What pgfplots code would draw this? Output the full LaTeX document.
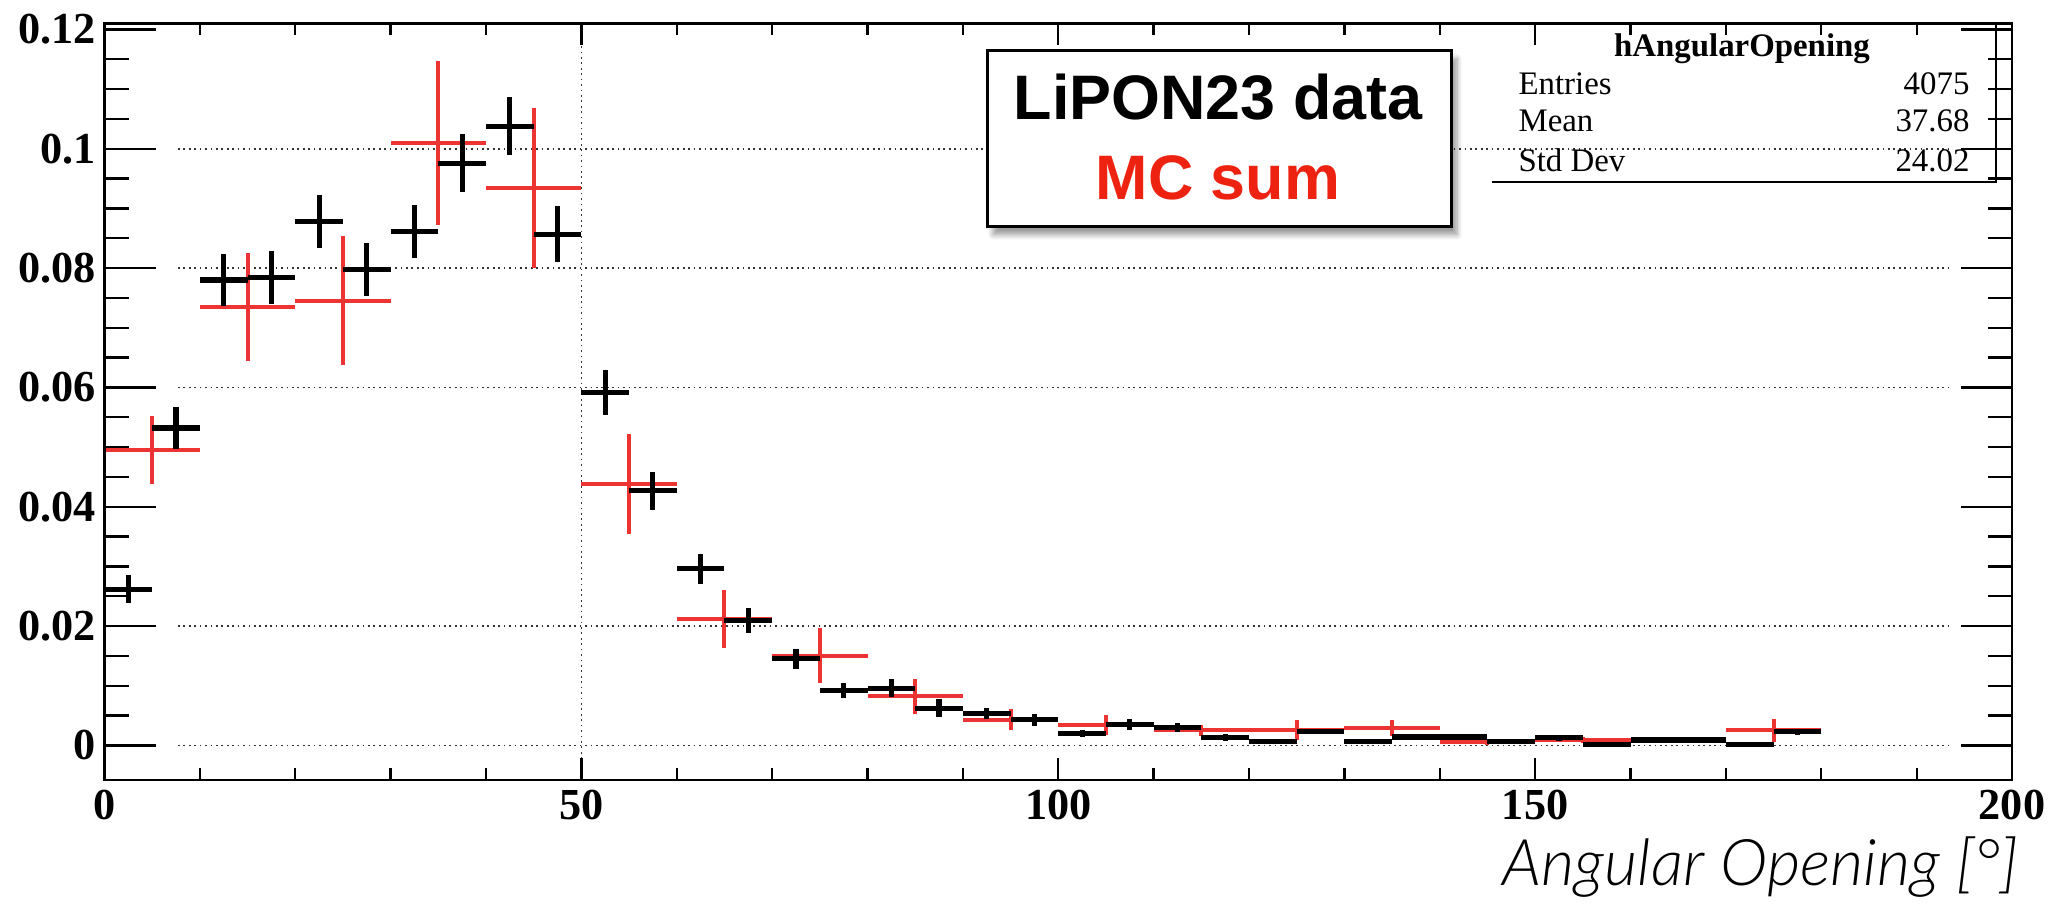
\documentclass[border=0pt]{standalone}
\usepackage{fontspec}
\setmainfont{Liberation Serif}
\newfontfamily\legendfont{Liberation Sans}
\newfontfamily\labelfont{Lato Light Italic}
\usepackage{pgfplots}
\pgfplotsset{compat=1.18}
\usepackage{pgfplotstable}
\usetikzlibrary{shadows.blur}

\definecolor{mcred}{RGB}{236,52,50}
\definecolor{txtred}{RGB}{238,34,16}

% data histogram: 5 degree bins (centre, value, half width, error)
\pgfplotstableread{
x     y       ex   ey
2.5   0.0262  2.5  0.0024
7.5   0.0532  2.5  0.0035
12.5  0.0780  2.5  0.0044
17.5  0.0784  2.5  0.0044
22.5  0.0878  2.5  0.0044
27.5  0.0798  2.5  0.0044
32.5  0.0861  2.5  0.0044
37.5  0.0976  2.5  0.0048
42.5  0.1038  2.5  0.0048
47.5  0.0857  2.5  0.0047
52.5  0.0592  2.5  0.0038
57.5  0.0427  2.5  0.0032
62.5  0.0296  2.5  0.0025
67.5  0.0210  2.5  0.0021
72.5  0.0145  2.5  0.0017
77.5  0.0092  2.5  0.0013
82.5  0.0096  2.5  0.0015
87.5  0.0062  2.5  0.0015
92.5  0.0053  2.5  0.0009
97.5  0.0043  2.5  0.0010
102.5 0.0020  2.5  0.0006
107.5 0.0035  2.5  0.0010
112.5 0.0030  2.5  0.0008
117.5 0.0013  2.5  0.0006
122.5 0.0007  2.5  0.0003
127.5 0.0023  2.5  0.0004
132.5 0.0007  2.5  0.0003
137.5 0.0014  2.5  0.0005
142.5 0.0014  2.5  0.0005
147.5 0.0007  2.5  0.0003
152.5 0.0013  2.5  0.0005
157.5 0.0002  2.5  0.0002
162.5 0.0009  2.5  0.0002
167.5 0.0009  2.5  0.0002
172.5 0.0002  2.5  0.0002
177.5 0.0023  2.5  0.0005
}\datatab

% MC sum: 10 degree bins
\pgfplotstableread{
x    y       ex  ey
5    0.0495  5   0.0057
15   0.0735  5   0.0090
25   0.0745  5   0.0108
35   0.1010  5   0.0137
45   0.0935  5   0.0134
55   0.0438  5   0.0084
65   0.0212  5   0.0049
75   0.0150  5   0.0046
85   0.0082  5   0.0030
95   0.0043  5   0.0018
105  0.0034  5   0.0017
115  0.0025  5   0.0010
125  0.0026  5   0.0017
135  0.0029  5   0.0014
145  0.0005  5   0.0005
155  0.0009  5   0.0005
165  0.0009  5   0.0005
175  0.0025  5   0.0020
}\mctab

\tikzset{gridline/.style={black!80, line width=0.6pt, dash pattern=on 0.6pt off 1.3pt}}

\begin{document}
\begin{tikzpicture}
\path[use as bounding box] (0,0) rectangle (717.15pt,316.05pt);

\pgfplotsset{
  rootframe/.style={
    scale only axis, width=667.625pt, height=264.775pt,
    at={(36.575pt,43.05pt)}, anchor=south west,
    xmin=0, xmax=200, ymin=-0.0058, ymax=0.121,
    axis line style={line width=0.9pt},
    tick style={line width=0.8pt, black},
    tick align=inside, tick pos=both,
    scaled y ticks=false,
    /pgf/number format/assume math mode=true,
    ticklabel style={font=\fontsize{15.5}{17}\selectfont\bfseries},
  },
  histo/.style={only marks, mark=*, mark size=0pt,
    mark options={draw=none, fill=none},
    error bars/.cd, x dir=both, x explicit, y dir=both, y explicit,
    error mark=none},
}

% frame, y ticks and both histograms
\begin{axis}[rootframe,
  xtick=\empty,
  ytick={0,0.02,0.04,0.06,0.08,0.1,0.12},
  yticklabels={0,0.02,0.04,0.06,0.08,0.1,0.12},
  minor y tick num=3,
  major tick length=18pt, minor tick length=8.5pt,
  yticklabel style={xshift=0.5pt},
]
\pgfplotsinvokeforeach{0,0.02,0.06,0.08,0.1}{
  \draw[gridline] (axis cs:7.7,#1) -- (axis cs:193.4,#1);
}
\draw[gridline] (axis cs:50,0.1172) -- (axis cs:50,-0.0021);

\addplot[histo, error bar style={draw=mcred, line width=1.4pt}]
  table[x=x, y=y, x error=ex, y error=ey]{\mctab};
\addplot[histo, error bar style={draw=black, line width=1.8pt}]
  table[x=x, y=y, x error=ex, y error=ey]{\datatab};
\end{axis}

% x ticks and labels
\begin{axis}[rootframe,
  ytick=\empty,
  xtick={0,50,100,150,200},
  xticklabels={0,50,100,150,200},
  minor x tick num=4,
  major tick length=7.7pt, minor tick length=4.2pt,
]
\end{axis}

% legend box
\node[draw, line width=0.9pt, fill=white, inner sep=0pt, anchor=north west,
      minimum width=162.4pt, minimum height=61.6pt,
      blur shadow={shadow xshift=2pt, shadow yshift=-3pt, shadow blur steps=8, shadow opacity=40}]
  at (345.1pt,298.9pt) {};
\node[anchor=base, font=\legendfont\bfseries\fontsize{22}{24}\selectfont]
  at (426.3pt,274.05pt) {LiPON23 data};
\node[anchor=base, text=txtred, font=\legendfont\bfseries\fontsize{22}{24}\selectfont]
  at (426.3pt,246.05pt) {MC sum};

% statistics box
\draw[line width=0.9pt] (522.2pt,252.35pt) -- (698.6pt,252.35pt) -- (698.6pt,307.8pt);
\begin{scope}[every node/.style={inner sep=0pt, font=\fontsize{11.5}{13}\selectfont}]
\node[anchor=base, font=\bfseries\fontsize{11.5}{13}\selectfont] at (609.7pt,296.1pt) {hAngularOpening};
\node[anchor=base west] at (531.3pt,282.8pt) {Entries};
\node[anchor=base east] at (689.5pt,282.8pt) {4075};
\node[anchor=base west] at (531.3pt,269.85pt) {Mean};
\node[anchor=base east] at (689.5pt,269.85pt) {37.68};
\node[anchor=base west] at (531.3pt,255.85pt) {Std Dev};
\node[anchor=base east] at (689.5pt,255.85pt) {24.02};
\end{scope}

% axis title
\node[anchor=base east, inner sep=0pt, font=\labelfont\fontsize{22.5}{24}\selectfont]
  at (706.7pt,6pt) {Angular Opening [°]};
\end{tikzpicture}
\end{document}
